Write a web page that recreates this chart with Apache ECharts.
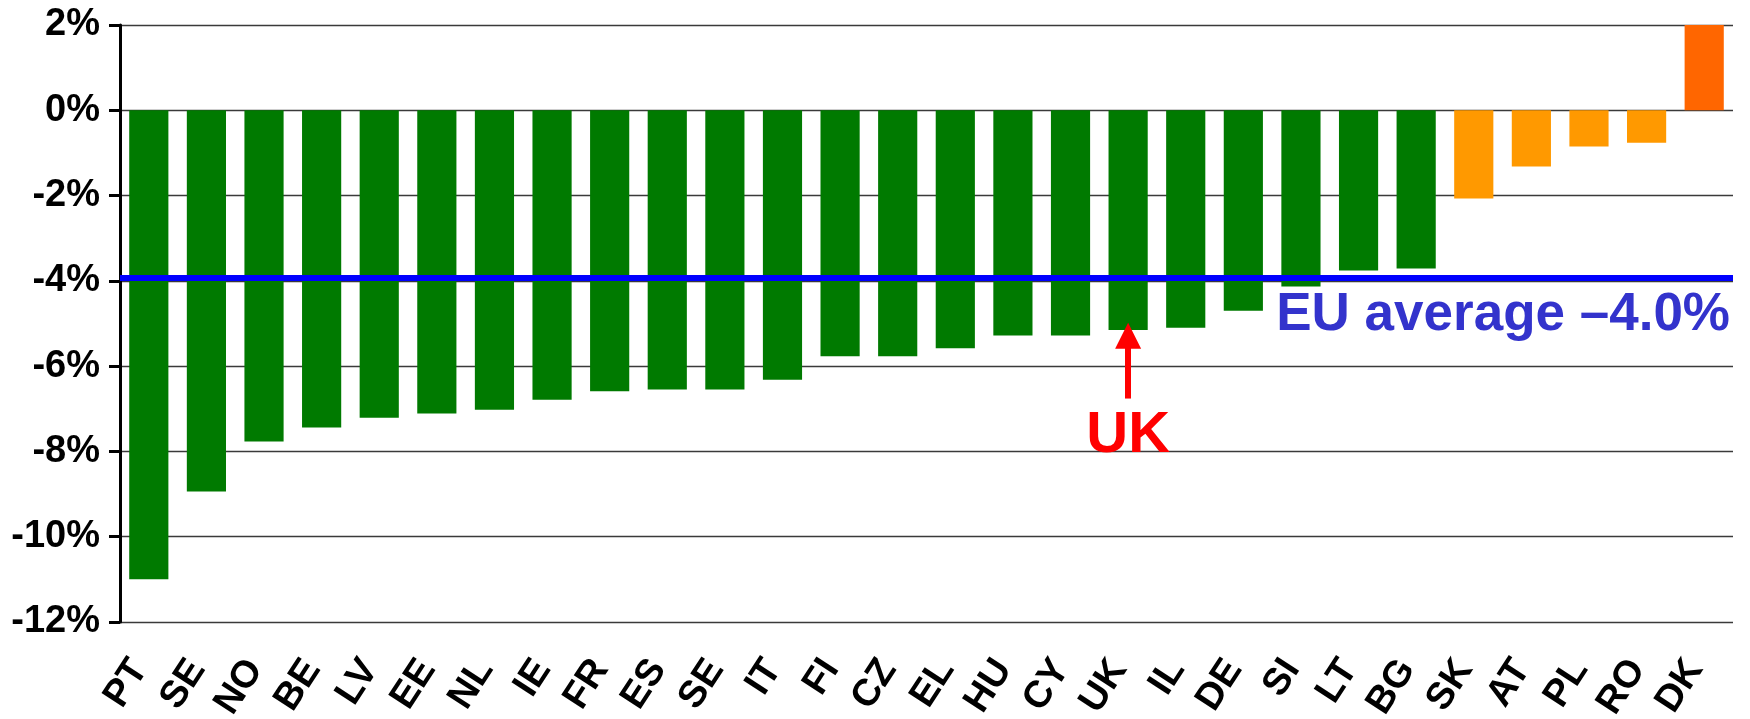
<!DOCTYPE html>
<html>
<head>
<meta charset="utf-8">
<script src="https://cdn.jsdelivr.net/npm/echarts@6/dist/echarts.min.js"></script>
<style>
  html, body { margin: 0; padding: 0; background: #fff; }
  #chart { width: 1750px; height: 719px; }
</style>
</head>
<body>
<div id="chart"></div>
<script>
// ---- data ----
const categories = ['PT','SE','NO','BE','LV','EE','NL','IE','FR','ES','SE','IT','FI','CZ','EL','HU','CY','UK','IL','DE','SI','LT','BG','SK','AT','PL','RO','DK'];
const values = [-11.0,-8.94,-7.77,-7.44,-7.21,-7.11,-7.02,-6.79,-6.59,-6.55,-6.55,-6.32,-5.77,-5.77,-5.58,-5.28,-5.28,-5.15,-5.10,-4.70,-4.13,-3.76,-3.71,-2.07,-1.32,-0.85,-0.76,2.0];
const euAverage = -3.93;
const euAverageLabel = 'EU average \u20134.0%';
const highlightCountry = 'UK';
const highlightIndex = 17;
const arrowFrom = -6.76;
const arrowTo = -5.29;
const orangeFrom = 23; // first index drawn in orange
const yTicks = { min: -12, max: 2, interval: 2 };

// ---- chart ----
const FONT = '"Liberation Sans", Arial, Helvetica, sans-serif';
const chart = echarts.init(document.getElementById('chart'), null, { renderer: 'canvas' });
chart.setOption({
  animation: false,
  backgroundColor: '#ffffff',
  grid: { left: 120, right: 17, top: 25, bottom: 97, containLabel: false, outerBoundsMode: 'none' },
  xAxis: {
    type: 'category',
    data: categories,
    axisLine: { show: false },
    axisTick: { show: false },
    axisLabel: {
      interval: 0,
      rotate: 57,
      margin: 47,
      verticalAlign: 'bottom',
      lineHeight: 22,
      color: '#000',
      fontFamily: FONT,
      fontWeight: 'bold',
      fontSize: 38
    }
  },
  yAxis: {
    type: 'value',
    min: yTicks.min,
    max: yTicks.max,
    interval: yTicks.interval,
    axisLine: { show: true, lineStyle: { color: '#000', width: 3 } },
    axisTick: { show: true, length: 11, lineStyle: { color: '#000', width: 3 } },
    axisLabel: {
      formatter: '{value}%',
      margin: 20,
      color: '#000',
      fontFamily: FONT,
      fontWeight: 'bold',
      fontSize: 38
    },
    splitLine: { show: true, lineStyle: { color: '#3a3a3a', width: 1.3 } }
  },
  series: [{
    type: 'bar',
    data: values,
    barCategoryGap: '32%',
    itemStyle: {
      color: function (p) {
        if (p.value > 0) return '#FF6600';
        if (p.dataIndex >= orangeFrom) return '#FF9900';
        return '#007A00';
      }
    },
    markLine: {
      silent: true,
      symbol: ['none', 'none'],
      data: [
        {
          yAxis: euAverage,
          lineStyle: { color: '#0000FF', width: 6, type: 'solid' },
          label: {
            show: true,
            position: 'insideEndBottom',
            formatter: euAverageLabel,
            color: '#3333CC',
            fontFamily: FONT,
            fontWeight: 'bold',
            fontSize: 53,
            distance: [3, 11]
          }
        },
        [
          {
            coord: [highlightIndex, arrowFrom],
            symbol: 'none',
            lineStyle: { color: '#FF0000', width: 6, type: 'solid' },
            label: {
              show: true,
              position: 'start',
              formatter: highlightCountry,
              color: '#FF0000',
              fontFamily: FONT,
              fontWeight: 'bold',
              fontSize: 58,
              distance: 8
            }
          },
          {
            coord: [highlightIndex, arrowTo],
            symbol: 'triangle',
            symbolSize: [26, 26]
          }
        ]
      ]
    }
  }]
});
</script>
</body>
</html>
